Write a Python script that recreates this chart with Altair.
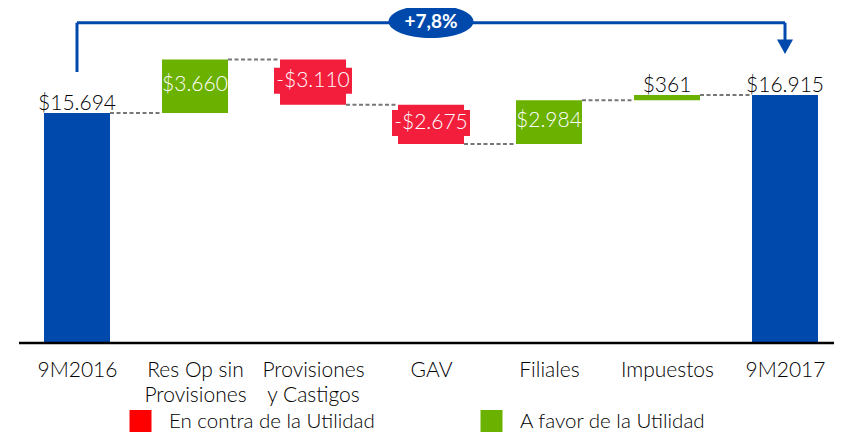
import altair as alt
import pandas as pd

# ---------------- data ----------------
categories = ["9M2016", "Res Op sin|Provisiones", "Provisiones|y Castigos",
              "GAV", "Filiales", "Impuestos", "9M2017"]
start_total = 15694
deltas = [3660, -3110, -2675, 2984, 361]
end_total = 16915
legend_labels = ["En contra de la Utilidad", "A favor de la Utilidad"]

# ---------------- style / layout ----------------
BLUE = "#0049AC"
GREEN = "#6AB100"
RED = "#F21E3C"
LEGEND_RED = "#FF0000"
DASH = "#777777"
FONT = "Lato"
FW = 300
PLOT_W, PLOT_H = 826, 334
Y_MAX = 22880
UPX = Y_MAX / PLOT_H  # value units per pixel
BAR_W = 66


def money(v):
    s = "$" + f"{abs(v):,}".replace(",", ".")
    return ("-" + s) if v < 0 else s


rows = [dict(cat=categories[0], lo=0, hi=start_total, kind="total",
             label=money(start_total), inside=False)]
level = start_total
conn = [dict(a=categories[0], b=categories[1], level=level)]
for i, (c, d) in enumerate(zip(categories[1:-1], deltas)):
    new = level + d
    rows.append(dict(cat=c, lo=min(level, new), hi=max(level, new),
                     kind="pos" if d > 0 else "neg", label=money(d),
                     inside=abs(d) >= 1000))
    level = new
    conn.append(dict(a=categories[i + 1], b=categories[i + 2], level=level))
rows.append(dict(cat=categories[-1], lo=0, hi=end_total, kind="total",
                 label=money(end_total), inside=False))
df = pd.DataFrame(rows)
df["mid"] = (df.lo + df.hi) / 2 + 1.5 * UPX
df["box_lo"] = df.mid - 13 * UPX
df["box_hi"] = df.mid + 13 * UPX
conn_df = pd.DataFrame(conn)

growth = (end_total / start_total - 1) * 100
growth_label = ("+" if growth >= 0 else "-") + f"{abs(growth):.1f}".replace(".", ",") + "%"

xscale = alt.Scale(type="point", domain=categories, range=[69, 777], padding=0)
yscale = alt.Scale(domain=[0, Y_MAX], nice=False, zero=True)

axis_x = alt.Axis(title=None, domain=False, ticks=False, labelAngle=0,
                  labelFont=FONT, labelFontSize=21, labelFontWeight=FW,
                  labelColor="black",
                  labelPadding=17, labelLineHeight=25, labelOverlap=False,
                  labelBound=False, labelLimit=0,
                  labelExpr="split(datum.label, '|')")


def X(field):
    return alt.X(f"{field}:N", scale=xscale, sort=categories, axis=axis_x, title=None)


base = alt.Chart(df)

bars = base.mark_bar(size=BAR_W).encode(
    x=X("cat"),
    y=alt.Y("lo:Q", scale=yscale, axis=None),
    y2="hi:Q",
    color=alt.Color("kind:N",
                    scale=alt.Scale(domain=["total", "pos", "neg"], range=[BLUE, GREEN, RED]),
                    legend=None),
)

neg_box = base.transform_filter("datum.kind == 'neg'").mark_bar(size=BAR_W + 12, color=RED).encode(
    x=X("cat"), y=alt.Y("box_lo:Q", scale=yscale, axis=None), y2="box_hi:Q")

connectors = alt.Chart(conn_df).mark_rule(
    strokeDash=[4, 2.5], color=DASH, strokeWidth=2,
    xOffset=BAR_W / 2, x2Offset=-BAR_W / 2
).encode(x=X("a"), x2="b:N", y=alt.Y("level:Q", scale=yscale, axis=None))

inside_text = base.transform_filter("datum.inside").mark_text(
    baseline="middle", color="white", font=FONT, fontSize=21, fontWeight=FW
).encode(x=X("cat"), y=alt.Y("mid:Q", scale=yscale, axis=None), text="label:N")

outside_text = base.transform_filter("!datum.inside").mark_text(
    baseline="alphabetic", color="black", font=FONT, fontSize=21, fontWeight=FW, dy=-3
).encode(x=X("cat"), y=alt.Y("hi:Q", scale=yscale, axis=None), text="label:N")

one = pd.DataFrame({"first": [categories[0]], "last": [categories[-1]],
                    "middle": [categories[len(categories) // 2]],
                    "txt": [growth_label]})
ann = alt.Chart(one)
ARROW = BLUE
left_v = ann.mark_rule(color=ARROW, strokeWidth=3).encode(
    x=X("first"), y=alt.value(64), y2=alt.value(14.7))
top_h = ann.mark_rule(color=ARROW, strokeWidth=3).encode(
    x=X("first"), x2="last:N", y=alt.value(14.7))
right_v = ann.mark_rule(color=ARROW, strokeWidth=3).encode(
    x=X("last"), y=alt.value(14.7), y2=alt.value(33))
arrow = ann.mark_point(shape="M-1,-0.9L1,-0.9L0,0.9Z", filled=True, size=256,
                       color=ARROW, opacity=1).encode(x=X("last"), y=alt.value(38.7))
ellipse = ann.mark_point(shape="M-1,0A1,0.388,0,1,0,1,0A1,0.388,0,1,0,-1,0Z",
                         filled=True, size=7225, color=ARROW, opacity=1).encode(
    x=X("middle"), y=alt.value(13.5))
growth_text = ann.mark_text(baseline="middle", color="white", font=FONT,
                            fontSize=19, fontWeight="bold").encode(
    x=X("middle"), y=alt.value(14), text="txt:N")

baseline_rule = ann.mark_rule(color="black", strokeWidth=2.4).encode(
    x=alt.value(11), x2=alt.value(PLOT_W), y=alt.value(335))

leg = pd.DataFrame({"t0": [legend_labels[0]], "t1": [legend_labels[1]]})
lg = alt.Chart(leg)
leg_sq_red = lg.mark_square(size=484, color=LEGEND_RED, opacity=1).encode(
    x=alt.value(132.5), y=alt.value(413))
leg_sq_green = lg.mark_square(size=484, color=GREEN, opacity=1).encode(
    x=alt.value(483.5), y=alt.value(413))
leg_t_red = lg.mark_text(align="left", baseline="middle", font=FONT, fontSize=20.5,
                         fontWeight=FW, color="black").encode(
    x=alt.value(161), y=alt.value(414), text="t0:N")
leg_t_green = lg.mark_text(align="left", baseline="middle", font=FONT, fontSize=20.5,
                           fontWeight=FW, color="black").encode(
    x=alt.value(512), y=alt.value(414), text="t1:N")

chart = alt.layer(
    bars, neg_box, connectors, inside_text, outside_text,
    left_v, top_h, right_v, arrow, ellipse, growth_text, baseline_rule,
    leg_sq_red, leg_sq_green, leg_t_red, leg_t_green,
).properties(
    width=PLOT_W, height=PLOT_H,
    autosize=alt.AutoSizeParams(type="none"),
    padding={"left": 0, "top": 0, "right": 0, "bottom": 92},
    background="white",
).configure_view(stroke=None)

chart.save("out.html", embed_options={"renderer": "svg", "actions": False})
